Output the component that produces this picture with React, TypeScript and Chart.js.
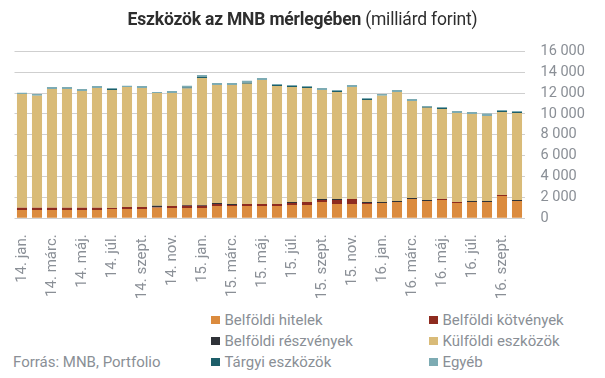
import React, { useEffect, useRef } from 'react';
import { Chart, registerables } from 'chart.js';

Chart.register(...registerables);

const months = [
  '14. jan.', '14. febr.', '14. márc.', '14. ápr.', '14. máj.', '14. jún.', '14. júl.', '14. aug.', '14. szept.', '14. okt.', '14. nov.', '14. dec.',
  '15. jan.', '15. febr.', '15. márc.', '15. ápr.', '15. máj.', '15. jún.', '15. júl.', '15. aug.', '15. szept.', '15. okt.', '15. nov.', '15. dec.',
  '16. jan.', '16. febr.', '16. márc.', '16. ápr.', '16. máj.', '16. jún.', '16. júl.', '16. aug.', '16. szept.', '16. okt.',
];

const belfoldiHitelek = [800, 800, 800, 800, 800, 800, 890, 890, 890, 1000, 990, 990, 990, 1180, 1180, 1180, 1180, 1180, 1280, 1280, 1560, 1370, 1370, 1370, 1470, 1560, 1850, 1660, 1760, 1470, 1560, 1560, 2140, 1660];
const belfoldiKotvenyek = [200, 200, 200, 200, 200, 200, 100, 190, 190, 50, 190, 220, 220, 190, 100, 190, 190, 190, 190, 290, 190, 380, 480, 100, 0, 0, 0, 0, 100, 100, 0, 0, 100, 0];
const belfoldiReszvenyek = [0, 0, 0, 0, 0, 0, 0, 0, 0, 150, 0, 70, 70, 100, 100, 0, 0, 0, 100, 0, 100, 100, 0, 100, 100, 100, 100, 100, 0, 0, 100, 100, 0, 100];
const kulfoldiEszkozok = [10920, 10730, 11400, 11400, 11200, 11490, 11310, 11510, 11410, 10810, 10830, 11150, 12170, 11310, 11400, 11510, 11890, 11310, 11020, 10920, 10450, 10260, 10740, 9770, 10160, 10450, 9300, 8820, 8620, 8530, 8340, 8150, 7950, 8340];
const targyiEszkozok = [0, 0, 0, 0, 0, 0, 90, 0, 0, 0, 0, 100, 100, 0, 0, 100, 0, 90, 90, 90, 0, 90, 0, 90, 0, 0, 0, 90, 90, 0, 0, 0, 90, 90];
const egyeb = [100, 190, 190, 190, 190, 190, 100, 100, 190, 100, 190, 160, 190, 190, 190, 190, 190, 100, 100, 100, 190, 100, 190, 100, 190, 190, 190, 100, 100, 190, 190, 220, 100, 100];

const yTicks = [0, 2000, 4000, 6000, 8000, 10000, 12000, 14000, 16000];

const seriesNames = ['Belföldi hitelek', 'Belföldi kötvények', 'Belföldi részvények', 'Külföldi eszközök', 'Tárgyi eszközök', 'Egyéb'];
const seriesColors = ['#DB8B3E', '#8E2B1F', '#2F3238', '#D9BB78', '#1D5E69', '#7DABB3'];
const seriesData = [belfoldiHitelek, belfoldiKotvenyek, belfoldiReszvenyek, kulfoldiEszkozok, targyiEszkozok, egyeb];

const textGray = '#8a8f96';
const fmt = (v: number) => String(v).replace(/\B(?=(\d{3})+(?!\d))/g, ' ');

export default function App() {
  const ref = useRef<HTMLCanvasElement | null>(null);

  useEffect(() => {
    document.body.style.margin = '0';
    const chart = new Chart(ref.current as HTMLCanvasElement, {
      type: 'bar',
      data: {
        labels: months,
        datasets: seriesNames.map((name, i) => ({
          label: name,
          data: seriesData[i],
          backgroundColor: seriesColors[i],
          borderWidth: 0,
          barPercentage: 0.67,
          categoryPercentage: 1,
        })),
      },
      options: {
        responsive: false,
        devicePixelRatio: 1,
        animation: false,
        layout: { padding: { left: 14.5, top: 51.3, right: 0, bottom: 0 } },
        plugins: { legend: { display: false }, title: { display: false }, tooltip: { enabled: false } },
        scales: {
          x: {
            stacked: true,
            grid: { display: false },
            border: { display: false },
            ticks: {
              autoSkip: false,
              minRotation: 90,
              maxRotation: 90,
              padding: 8,
              color: textGray,
              font: { family: 'Roboto', size: 15 },
              callback: (_v: any, i: number) => (i % 2 === 0 ? months[i] : ''),
            },
            afterFit: (s: any) => { s.height = 300 - 218.3; },
          },
          y: {
            stacked: true,
            position: 'right',
            min: 0,
            max: 16000,
            afterBuildTicks: (s: any) => { s.ticks = yTicks.map((v) => ({ value: v })); },
            grid: { color: '#cfcfcf', lineWidth: 1, drawTicks: false },
            border: { display: false },
            ticks: {
              padding: 16,
              color: textGray,
              font: { family: 'Roboto', size: 14.5 },
              callback: (v: any) => fmt(Number(v)),
            },
            afterFit: (s: any) => { s.width = 605 - 524.5; },
          },
        },
      },
    });
    return () => chart.destroy();
  }, []);

  const legendPos = [
    [211, 320], [429, 320],
    [211, 341], [429, 341],
    [211, 362], [429, 362],
  ];

  return (
    <div style={{ position: 'relative', width: 605, height: 378, background: '#fff', fontFamily: 'Roboto', overflow: 'hidden' }}>
      <canvas ref={ref} width={605} height={300} style={{ position: 'absolute', left: 0, top: 0 }} />
      <div style={{ position: 'absolute', left: 0, top: 8, width: 605, textAlign: 'center', fontSize: 17.5, lineHeight: '22px', color: '#2e2e2e', whiteSpace: 'nowrap', letterSpacing: '-0.2px' }}>
        <span style={{ fontWeight: 700 }}>Eszközök az MNB mérlegében</span>
        <span style={{ fontWeight: 400 }}> (milliárd forint)</span>
      </div>
      {seriesNames.map((name, i) => (
        <div key={name} style={{ position: 'absolute', left: legendPos[i][0], top: legendPos[i][1] - 10, height: 20, display: 'flex', alignItems: 'center', whiteSpace: 'nowrap' }}>
          <span style={{ display: 'inline-block', width: 8.5, height: 8.5, background: seriesColors[i], marginRight: 5 }} />
          <span style={{ fontSize: 15, color: textGray }}>{name}</span>
        </div>
      ))}
      <div style={{ position: 'absolute', left: 13, top: 362 - 10, height: 20, display: 'flex', alignItems: 'center', fontSize: 15, color: textGray, whiteSpace: 'nowrap' }}>
        Forrás: MNB, Portfolio
      </div>
    </div>
  );
}
